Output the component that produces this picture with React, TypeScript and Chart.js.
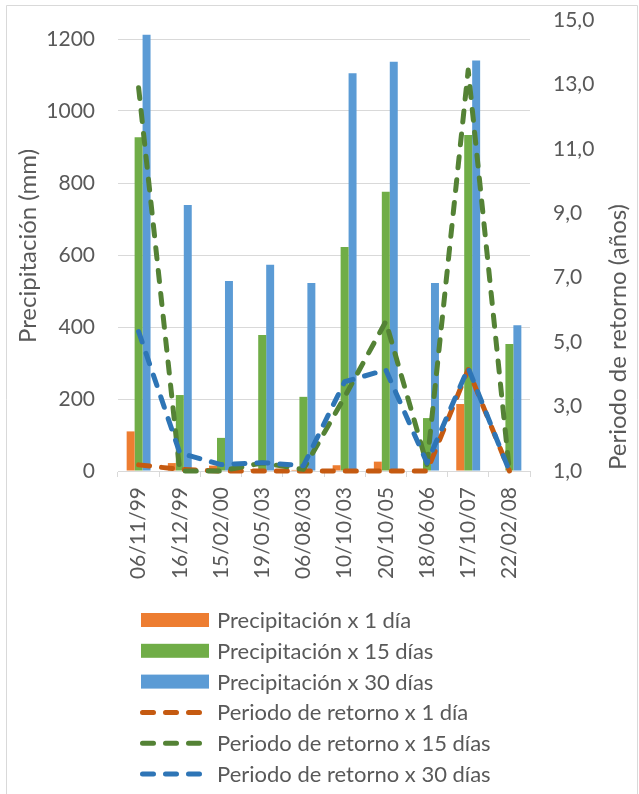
import React, { useEffect, useRef } from 'react';
import { Chart, registerables } from 'chart.js';

Chart.register(...registerables);

// ---- Data ----
const categories = ['06/11/99', '16/12/99', '15/02/00', '19/05/03', '06/08/03', '10/10/03', '20/10/05', '18/06/06', '17/10/07', '22/02/08'];
const precip1 = [110, 22, 15, 5, 3, 16, 26, 2, 186, 0];
const precip15 = [927, 211, 92, 378, 206, 622, 776, 147, 933, 353];
const precip30 = [1212, 739, 528, 573, 522, 1105, 1137, 522, 1140, 405];
const ret1 = [1.19, 1.05, 1.0, 1.0, 1.0, 1.0, 1.0, 1.0, 4.15, 1.0];
const ret15 = [12.9, 1.0, 1.0, 1.25, 1.05, 3.3, 5.64, 1.2, 13.45, 1.0];
const ret30 = [5.33, 1.56, 1.2, 1.26, 1.16, 3.77, 4.14, 1.25, 4.2, 1.0];

const labels = [
  'Precipitación x 1 día',
  'Precipitación x 15 días',
  'Precipitación x 30 días',
  'Periodo de retorno x 1 día',
  'Periodo de retorno x 15 días',
  'Periodo de retorno x 30 días',
];
const leftTitle = 'Precipitación (mm)';
const rightTitle = 'Periodo de retorno (años)';

const FONT = 'Lato, "Open Sans", sans-serif';
const TEXT = '#595959';
const GRID = '#d9d9d9';
const DASH = [11, 12];

const overlayPlugin = {
  id: 'overlay',
  afterLayout(chart: any) {
    // secondary axis: its top value sits above the plot area (as in the original)
    const s = chart.scales.y1;
    s.top = 20;
    s.configure();
    s._labelItems = null;
  },
  beforeDraw(chart: any) {
    const ctx = chart.ctx;
    ctx.save();
    ctx.fillStyle = '#ffffff';
    ctx.fillRect(0, 0, chart.width, chart.height);
    ctx.strokeStyle = GRID;
    ctx.lineWidth = 1;
    ctx.beginPath();
    ctx.moveTo(6.5, chart.height);
    ctx.lineTo(6.5, 5.5);
    ctx.lineTo(637.5, 5.5);
    ctx.lineTo(637.5, chart.height);
    ctx.stroke();
    ctx.restore();
  },
  afterDraw(chart: any) {
    const ctx = chart.ctx;
    ctx.save();
    ctx.fillStyle = TEXT;
    ctx.textAlign = 'center';
    ctx.textBaseline = 'middle';
    ctx.font = `24px ${FONT}`;
    ctx.save();
    ctx.translate(28, 246);
    ctx.rotate(-Math.PI / 2);
    ctx.fillText(leftTitle, 0, 0);
    ctx.restore();
    ctx.save();
    ctx.translate(618, 337);
    ctx.rotate(-Math.PI / 2);
    ctx.fillText(rightTitle, 0, 0);
    ctx.restore();

    // legend
    const ds = chart.data.datasets;
    ctx.font = `22px ${FONT}`;
    ctx.textAlign = 'left';
    for (let i = 0; i < ds.length; i++) {
      const y = 620 + i * 30.8;
      const d = ds[i];
      if (d.type === 'line') {
        ctx.save();
        ctx.strokeStyle = d.borderColor;
        ctx.lineWidth = 5;
        ctx.lineCap = 'round';
        ctx.setLineDash(DASH);
        ctx.beginPath();
        ctx.moveTo(142.5, y);
        ctx.lineTo(204, y);
        ctx.stroke();
        ctx.restore();
      } else {
        ctx.fillStyle = d.backgroundColor;
        ctx.fillRect(141, y - 7, 68, 14);
      }
      ctx.fillStyle = TEXT;
      ctx.fillText(d.label, 217, y + 1);
    }
    ctx.restore();
  },
};

export default function App() {
  const ref = useRef<HTMLCanvasElement>(null);
  useEffect(() => {
    if (!ref.current) return;
    const bar = (label: string, data: number[], color: string) => ({
      type: 'bar' as const,
      label,
      data,
      backgroundColor: color,
      borderWidth: 0,
      yAxisID: 'y',
      order: 10,
      clip: false,
      categoryPercentage: 0.58,
      barPercentage: 1.0,
    });
    const line = (label: string, data: number[], color: string, order: number) => ({
      type: 'line' as const,
      label,
      data,
      borderColor: color,
      backgroundColor: color,
      borderWidth: 5,
      borderDash: DASH,
      borderCapStyle: 'round' as const,
      borderJoinStyle: 'round' as const,
      pointRadius: 0,
      tension: 0,
      fill: false,
      clip: false,
      yAxisID: 'y1',
      order,
    });
    const chart = new Chart(ref.current, {
      type: 'bar',
      data: {
        labels: categories,
        datasets: [
          bar(labels[0], precip1, '#ED7D31'),
          bar(labels[1], precip15, '#70AD47'),
          bar(labels[2], precip30, '#5B9BD5'),
          line(labels[3], ret1, '#C55A11', 3),
          line(labels[4], ret15, '#548235', 2),
          line(labels[5], ret30, '#2E75B6', 1),
        ] as any,
      },
      options: {
        responsive: false,
        animation: false,
        maintainAspectRatio: false,
        layout: { padding: { top: 39, left: 0, right: 0, bottom: 203 } },
        plugins: {
          legend: { display: false },
          tooltip: { enabled: false },
          title: { display: false },
        },
        scales: {
          x: {
            offset: true,
            grid: {
              offset: true,
              drawOnChartArea: false,
              drawTicks: true,
              tickLength: 6,
              color: GRID,
            },
            border: { display: true, color: GRID, width: 1 },
            ticks: {
              autoSkip: false,
              minRotation: 90,
              maxRotation: 90,
              padding: 10,
              color: TEXT,
              font: { family: FONT, size: 21 },
            },
            afterFit: (s: any) => { s.height = 120; },
          },
          y: {
            position: 'left',
            min: 0,
            max: 1200,
            ticks: {
              stepSize: 200,
              padding: 23,
              color: TEXT,
              font: { family: FONT, size: 21 },
              callback: (v: any) => String(v),
            },
            grid: { color: GRID, drawTicks: false, lineWidth: 1 },
            border: { display: false },
            afterFit: (s: any) => { s.width = 118; },
          },
          y1: {
            position: 'right',
            min: 1,
            max: 15,
            ticks: {
              stepSize: 2,
              padding: 23,
              color: TEXT,
              font: { family: FONT, size: 21 },
              callback: (v: any) => Number(v).toFixed(1).replace('.', ','),
            },
            grid: { display: false, drawTicks: false },
            border: { display: false },
            afterFit: (s: any) => { s.width = 109; },
          },
        },
      },
      plugins: [overlayPlugin],
    });
    return () => chart.destroy();
  }, []);

  return (
    <div style={{ position: 'absolute', left: 0, top: 0, width: 639, height: 794, overflow: 'hidden', background: '#fff' }}>
      <canvas ref={ref} width={639} height={794} style={{ display: 'block', width: 639, height: 794 }} />
    </div>
  );
}
